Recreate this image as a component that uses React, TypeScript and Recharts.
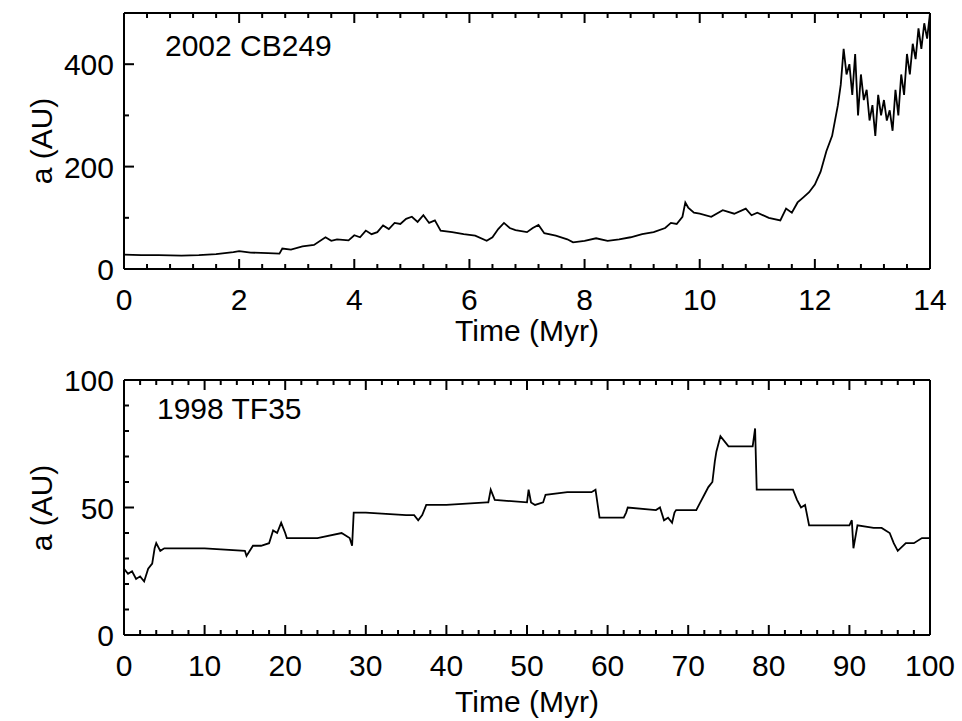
import React from 'react';
import { LineChart, Line, XAxis, YAxis } from 'recharts';

const topT = [0,0.3,0.6,1,1.3,1.6,1.9,2.0,2.2,2.5,2.7,2.75,2.9,3.1,3.3,3.5,3.6,3.7,3.9,4.0,4.1,4.2,4.3,4.4,4.5,4.6,4.7,4.8,4.9,5.0,5.1,5.2,5.3,5.4,5.5,5.7,5.9,6.1,6.3,6.4,6.5,6.6,6.7,6.8,7.0,7.1,7.2,7.3,7.5,7.7,7.8,8.0,8.2,8.4,8.6,8.8,9.0,9.2,9.4,9.5,9.6,9.7,9.75,9.8,9.9,10.0,10.2,10.4,10.6,10.8,10.9,11.0,11.2,11.4,11.5,11.6,11.7,11.8,11.9,12.0,12.1,12.2,12.3,12.4,12.45,12.5,12.55,12.6,12.65,12.7,12.75,12.8,12.85,12.9,12.95,13.0,13.05,13.1,13.15,13.2,13.25,13.3,13.35,13.4,13.45,13.5,13.55,13.6,13.65,13.7,13.75,13.8,13.85,13.9,13.95,14.0];
const topA = [28,27,27,26,27,29,33,35,32,31,30,40,38,44,47,62,55,58,56,66,62,75,68,72,85,78,90,88,98,102,92,105,90,95,75,72,68,65,55,62,78,90,80,76,72,80,86,70,65,58,52,55,60,55,58,62,68,72,80,90,88,102,130,120,110,108,102,115,108,118,105,110,100,95,118,110,130,140,150,165,190,230,260,320,360,430,380,400,340,420,300,380,330,350,290,320,260,340,300,330,290,310,270,350,300,380,340,420,380,440,410,470,430,480,450,500];

const botT = [0,0.5,1,1.5,2,2.5,3,3.5,3.8,4,4.5,5,10,15,15.2,16,17,18,18.5,19,19.5,20,20.2,24,27,27.5,28,28.3,28.5,30,35,36,36.5,37,37.5,40,45,45.2,45.5,46,50,50.2,50.5,51,52,52.3,55,58,58.5,59,62,62.3,62.5,66,66.5,67,67.5,68,68.3,68.5,71,71.5,72,72.5,73,73.3,73.5,74,75,77,78,78.3,78.5,80,83,83.5,84,84.5,85,88,90,90.3,90.5,91,93,94,95,95.5,96,97,98,99,100];
const botA = [26,24,25,22,23,21,26,28,34,36,33,34,34,33,31,35,35,36,41,40,44,40,38,38,40,39,38,35,48,48,47,47,45,47,51,51,52,52,57,53,52,57,52,51,52,55,56,56,57,46,46,48,50,49,50,45,46,44,48,49,49,52,55,58,60,68,72,78,74,74,74,81,57,57,57,53,50,51,43,43,43,45,34,43,42,42,40,36,33,36,36,38,38,40,40];

const topData = topT.map((t, i) => ({ t, a: topA[i] }));
const botData = botT.map((t, i) => ({ t, a: botA[i] }));

const range = (a: number, b: number, s: number) => {
  const r: number[] = [];
  for (let v = a; v <= b + 1e-9; v += s) r.push(Math.round(v * 1000) / 1000);
  return r;
};

const FONT = 'Liberation Sans, Arial, sans-serif';
const FS = 30;

const mkTick = (major: number, dir: 'bottom' | 'left' | 'top' | 'right', showLabel: boolean) => (props: any) => {
  const { x, y, payload } = props;
  const v = payload.value;
  const isMajor = Math.abs(v / major - Math.round(v / major)) < 1e-6;
  const len = isMajor ? 10 : 5;
  let line;
  if (dir === 'bottom') line = <line x1={x} y1={y} x2={x} y2={y - len} stroke="#000" strokeWidth={2} />;
  else if (dir === 'top') line = <line x1={x} y1={y} x2={x} y2={y + len} stroke="#000" strokeWidth={2} />;
  else if (dir === 'left') line = <line x1={x} y1={y} x2={x + len} y2={y} stroke="#000" strokeWidth={2} />;
  else line = <line x1={x} y1={y} x2={x - len} y2={y} stroke="#000" strokeWidth={2} />;
  return (
    <g>
      {line}
      {showLabel && isMajor && dir === 'bottom' && (
        <text x={x} y={y + 41} textAnchor="middle" fontSize={FS} fontFamily={FONT} fill="#000">{v}</text>
      )}
      {showLabel && isMajor && dir === 'left' && (
        <text x={x - 10} y={y + 11} textAnchor="end" fontSize={FS} fontFamily={FONT} fill="#000">{v}</text>
      )}
    </g>
  );
};

function Panel(props: { data: any[]; xMax: number; xMajor: number; xMinor: number; yMax: number; yMajor: number; yMinor: number; height: number; top: number; bottom: number; label: string; labelTop: number; labelLeft: number; yLabelY: number; xLabelY: number; }) {
  const xt = range(0, props.xMax, props.xMinor);
  const yt = range(0, props.yMax, props.yMinor);
  const axisLine = { stroke: '#000', strokeWidth: 2 };
  return (
    <div style={{ position: 'relative', width: 962, height: props.height }}>
      <LineChart width={962} height={props.height} data={props.data} margin={{ top: props.top - 1, right: 31, left: 0, bottom: 0 }}>
        <XAxis xAxisId="b" dataKey="t" type="number" domain={[0, props.xMax]} ticks={xt} interval={0} axisLine={axisLine} tickLine={false} tickSize={0} tickMargin={0} height={props.bottom} tick={mkTick(props.xMajor, 'bottom', true)} />
        <XAxis xAxisId="t" orientation="top" dataKey="t" type="number" domain={[0, props.xMax]} ticks={xt} interval={0} axisLine={axisLine} tickLine={false} tickSize={0} tickMargin={0} height={1} tick={mkTick(props.xMajor, 'top', false)} />
        <YAxis yAxisId="l" type="number" domain={[0, props.yMax]} ticks={yt} interval={0} allowDataOverflow axisLine={axisLine} tickLine={false} tickSize={0} tickMargin={0} width={124} tick={mkTick(props.yMajor, 'left', true)} />
        <YAxis yAxisId="r" orientation="right" type="number" domain={[0, props.yMax]} ticks={yt} interval={0} axisLine={axisLine} tickLine={false} tickSize={0} tickMargin={0} width={1} tick={mkTick(props.yMajor, 'right', false)} />
        <Line xAxisId="b" yAxisId="l" dataKey="a" type="linear" stroke="#000" strokeWidth={1.8} dot={false} isAnimationActive={false} />
      </LineChart>
      <div style={{ position: 'absolute', left: props.labelLeft, top: props.labelTop, fontFamily: FONT, fontSize: FS }}>{props.label}</div>
      <div style={{ position: 'absolute', left: 0, width: 962, textAlign: 'center', top: props.xLabelY, fontFamily: FONT, fontSize: FS, paddingLeft: 92, boxSizing: 'border-box' }}>Time (Myr)</div>
      <div style={{ position: 'absolute', left: 42, top: props.yLabelY, fontFamily: FONT, fontSize: FS, transform: 'translate(-50%,-50%) rotate(-90deg)', whiteSpace: 'nowrap' }}>a (AU)</div>
    </div>
  );
}

export default function App() {
  return (
    <div style={{ position: 'absolute', left: 0, top: 0, width: 962, height: 721, background: '#fff' }}>
      <Panel data={topData} xMax={14} xMajor={2} xMinor={0.4} yMax={500} yMajor={200} yMinor={100} height={330} top={13} bottom={61} label="2002 CB249" labelTop={29} labelLeft={165} yLabelY={141} xLabelY={314} />
      <Panel data={botData} xMax={100} xMajor={10} xMinor={2} yMax={100} yMajor={50} yMinor={10} height={391} top={50} bottom={86} label="1998 TF35" labelTop={62} labelLeft={157} yLabelY={178} xLabelY={355} />
    </div>
  );
}
